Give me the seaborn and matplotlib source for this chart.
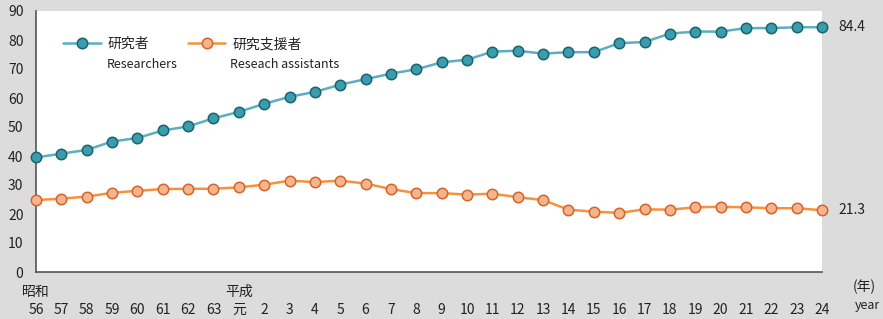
import matplotlib
matplotlib.use("Agg")
import matplotlib.pyplot as plt
import seaborn as sns
import pandas as pd

years = ["56", "57", "58", "59", "60", "61", "62", "63", "元", "2", "3", "4", "5", "6",
         "7", "8", "9", "10", "11", "12", "13", "14", "15", "16", "17", "18", "19", "20",
         "21", "22", "23", "24"]
researchers = [39.5, 40.8, 42.1, 45.0, 46.2, 48.8, 50.2, 53.0, 55.2, 58.0, 60.4, 62.1,
               64.6, 66.5, 68.4, 69.9, 72.3, 73.2, 76.0, 76.3, 75.3, 75.8, 75.8, 78.9,
               79.3, 82.2, 82.9, 82.9, 84.1, 84.1, 84.4, 84.4]
assistants = [24.8, 25.3, 26.0, 27.3, 28.0, 28.6, 28.7, 28.7, 29.2, 30.1, 31.5, 31.0,
              31.5, 30.5, 28.6, 27.2, 27.2, 26.7, 27.0, 25.8, 24.8, 21.5, 20.8, 20.4,
              21.6, 21.5, 22.3, 22.5, 22.3, 22.0, 22.0, 21.3]
era_labels = {"昭和": "56", "平成": "元"}
series_jp = ["研究者", "研究支援者"]
series_en = ["Researchers", "Reseach assistants"]

sns.set_theme(style="white")
plt.rcParams['font.family'] = ['Noto Sans CJK JP', 'DejaVu Sans']

BG = '#dcdcdc'
fig = plt.figure(figsize=(8.83, 3.19), dpi=100, facecolor=BG)
ax = fig.add_axes([36 / 883, 47 / 319, 786 / 883, 261 / 319])
ax.set_facecolor('white')

df = pd.DataFrame({"pos": range(len(years)), "researchers": researchers,
                   "assistants": assistants})

sns.lineplot(data=df, x="pos", y="researchers", ax=ax, color='#5ab0c0',
             linewidth=1.8, marker='o', markersize=7.5,
             markerfacecolor='#3a9cac', markeredgecolor='#17656f',
             markeredgewidth=1.1, label=series_jp[0], clip_on=False, zorder=3)
sns.lineplot(data=df, x="pos", y="assistants", ax=ax, color='#f7913c',
             linewidth=1.8, marker='o', markersize=7.5,
             markerfacecolor='#f4b48c', markeredgecolor='#d5632c',
             markeredgewidth=1.1, label=series_jp[1], clip_on=False, zorder=3)

ax.set_xlim(0, len(years) - 1)
ax.set_ylim(0, 90)
ax.set_yticks(range(0, 91, 10))
ax.set_xticks(range(len(years)))
ax.set_xticklabels(years)
ax.set_xlabel("")
ax.set_ylabel("")

for s in ["top", "right"]:
    ax.spines[s].set_visible(False)
for s in ["left", "bottom"]:
    ax.spines[s].set_color('#555555')
    ax.spines[s].set_linewidth(1.2)

ax.tick_params(axis='both', direction='in', length=4, width=1, color='#555555',
               labelsize=10, labelcolor='#222222')
ax.tick_params(axis='y', pad=9)
ax.tick_params(axis='x', pad=22)

# era labels above the year numbers
for era, yr in era_labels.items():
    ax.annotate(era, xy=(years.index(yr), 0), xycoords=('data', 'axes fraction'),
                xytext=(0, -20), textcoords='offset pixels', ha='center', va='center',
                fontsize=10, color='#222222', annotation_clip=False)

# end-value labels
ax.annotate(f"{researchers[-1]:.1f}", xy=(len(years) - 1, researchers[-1]),
            xytext=(16, 0), textcoords='offset pixels', ha='left', va='center',
            fontsize=10, color='#222222', annotation_clip=False)
ax.annotate(f"{assistants[-1]:.1f}", xy=(len(years) - 1, assistants[-1]),
            xytext=(16, 0), textcoords='offset pixels', ha='left', va='center',
            fontsize=10, color='#222222', annotation_clip=False)

fig.text(864 / 883, 1 - 287 / 319, "(年)", ha='center', va='center', fontsize=10,
         color='#222222')
fig.text(867 / 883, 1 - 305 / 319, "year", ha='center', va='center', fontsize=9,
         color='#222222')

leg = ax.legend(loc='center left', bbox_to_anchor=(27 / 786, (272 - 44) / 261),
                ncol=2, frameon=False, fontsize=10, handlelength=2.7,
                handletextpad=0.5, columnspacing=2.8, borderpad=0, borderaxespad=0)
for t in leg.get_texts():
    t.set_color('#222222')

ax.text(71 / 786, (272 - 64) / 261, series_en[0], transform=ax.transAxes,
        ha='left', va='center', fontsize=9, color='#222222')
ax.text(194 / 786, (272 - 64) / 261, series_en[1], transform=ax.transAxes,
        ha='left', va='center', fontsize=9, color='#222222')

fig.savefig("out.png", dpi=100, facecolor=BG)
